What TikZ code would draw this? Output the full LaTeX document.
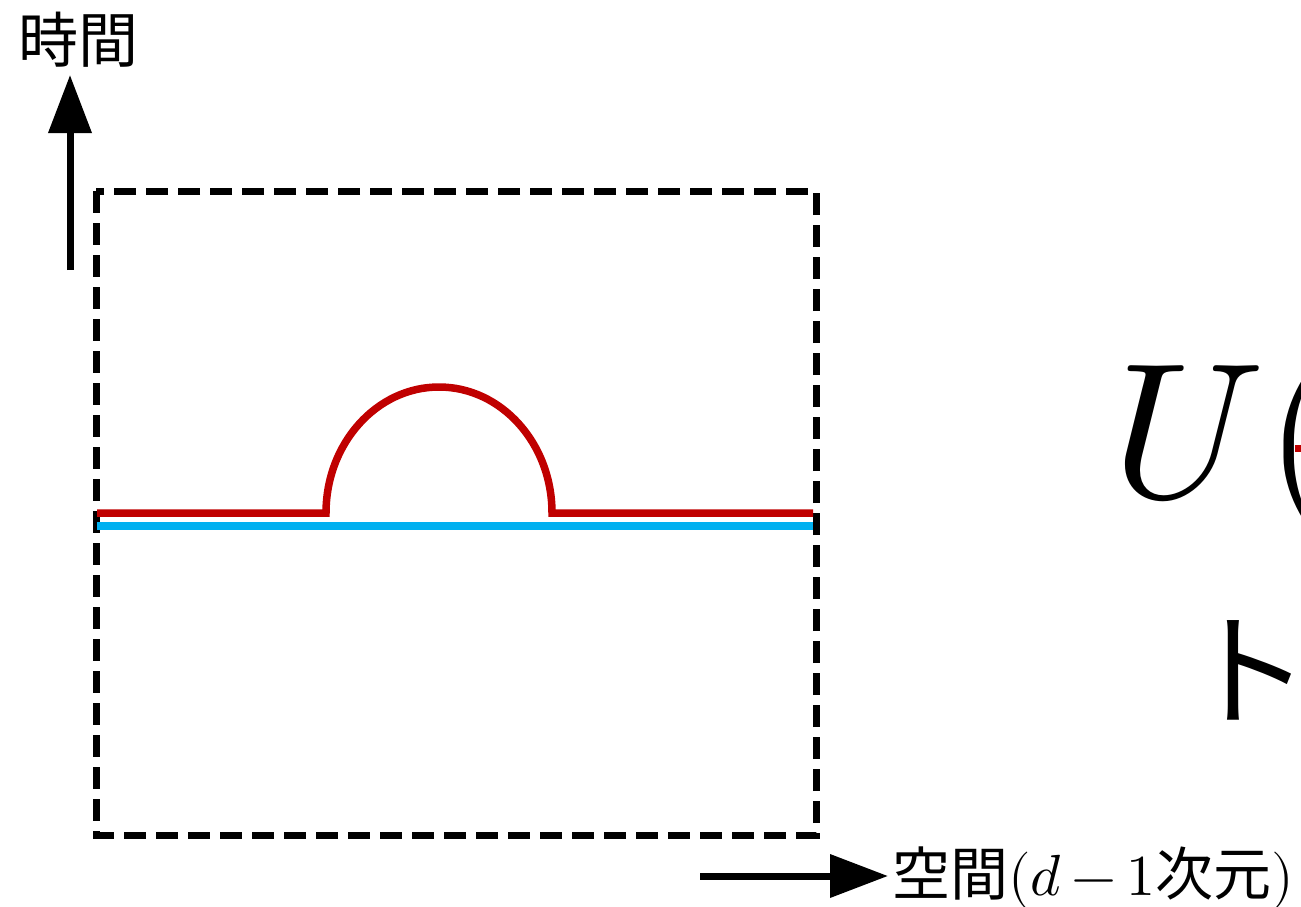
\documentclass[tikz,border=0pt]{standalone}
\usepackage{fontspec}
\usepackage{unicode-math}
\setmathfont{Latin Modern Math}
\newfontfamily\cjk{Noto Sans CJK JP}
\usetikzlibrary{arrows.meta}
\definecolor{cred}{HTML}{C00000}
\definecolor{cblue}{HTML}{00B0F0}
\tikzset{
  axis/.style={line width=7pt, -{Triangle[length=58pt,width=42pt]}},
  frame/.style={line width=7pt, dash pattern=on 22pt off 10pt},
  redpath/.style={line width=7.5pt, cred},
  bluepath/.style={line width=7.5pt, cblue},
  lbl/.style={inner sep=0pt, outer sep=0pt},
}
\begin{document}
\begin{tikzpicture}[x=1pt,y=-1pt]
\useasboundingbox (0,0) rectangle (1301,907);
\clip (0,0) rectangle (1301,907);
% frame
\coordinate (fa) at (96,191);
\coordinate (fb) at (816,835);
\draw[frame] (fa) rectangle (fb);
% axes
\coordinate (tb) at (70,270);
\coordinate (tt) at (70,75);
\draw[axis] (tb) -- (tt);
\coordinate (sb) at (700,876);
\coordinate (st) at (888,876);
\draw[axis] (sb) -- (st);
\node[lbl, font=\cjk\fontsize{60}{60}\selectfont] (tlabel) at (79,40) {時間};
\node[lbl, anchor=base west, font=\fontsize{58}{58}\selectfont] (slabel) at (892,895) {{\cjk 空間}$(d\mskip3mu{-}\mskip3mu1${\cjk 次元}$)$};
% lines
\coordinate (bl) at (97,526);
\coordinate (br) at (813,526);
\draw[bluepath] (bl) -- (br);
\coordinate (rl) at (97,513);
\coordinate (ra) at (326,513);
\coordinate (rb) at (552,513);
\coordinate (rr) at (813,513);
\draw[redpath, line join=miter] (rl) -- (ra) arc[start angle=180, end angle=0, x radius=113pt, y radius=126pt] -- (rr);
% right text (clipped)
\node[lbl, anchor=base west, font=\fontsize{193}{200}\selectfont] (uexpr) at (1112,497) {$U($};
\node[lbl, fill=cred, minimum width=7pt, minimum height=7pt] (rdot) at (1298,448) {};
\node[lbl, anchor=base west, font=\cjk\fontsize{124}{124}\selectfont] (to) at (1186,716) {ト};
\end{tikzpicture}
\end{document}
